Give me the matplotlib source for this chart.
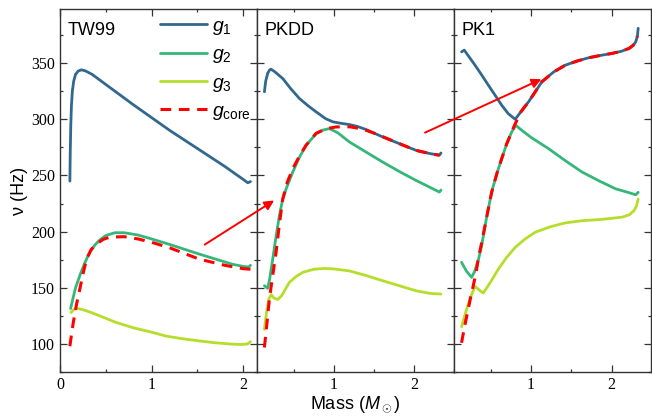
import matplotlib
matplotlib.use("Agg")
import matplotlib.pyplot as plt
from matplotlib.patches import ConnectionPatch
from matplotlib.ticker import MultipleLocator

plt.rcParams['font.family'] = ['Liberation Sans', 'DejaVu Sans']
plt.rcParams['mathtext.fontset'] = 'custom'
plt.rcParams['mathtext.rm'] = 'Liberation Sans'
plt.rcParams['mathtext.it'] = 'Liberation Sans:italic'

# ---- TW99 ----
tw_g1_m = [0.108, 0.112, 0.118, 0.125, 0.135, 0.15, 0.17, 0.2, 0.235, 0.28, 0.35, 0.45, 0.6, 0.8, 1.0, 1.2, 1.5, 1.8, 2.0, 2.05, 2.08]
tw_g1_v = [245, 270, 295, 312, 325, 334, 340, 343, 344, 343, 340, 334, 325, 313, 301.5, 290, 274, 258, 246.5, 243.5, 244.5]
tw_g2_m = [0.116, 0.14, 0.17, 0.217, 0.27, 0.325, 0.38, 0.434, 0.5, 0.6, 0.7, 0.85, 1.0, 1.2, 1.52, 1.7, 1.88, 2.0, 2.06, 2.08]
tw_g2_v = [131.5, 140, 150, 161, 172, 181.5, 188, 192.5, 196.5, 199, 199, 197, 193.5, 188.5, 180, 175.5, 171, 169, 168.5, 170]
tw_g3_m = [0.12, 0.15, 0.18, 0.25, 0.34, 0.434, 0.6, 0.795, 1.0, 1.156, 1.35, 1.518, 1.7, 1.88, 1.98, 2.05, 2.08]
tw_g3_v = [128, 130.5, 131.8, 130.5, 128, 125, 119.5, 114.5, 110.5, 107, 104.5, 102.7, 101, 99.8, 99.5, 100, 102]
tw_gc_m = [0.108, 0.125, 0.145, 0.18, 0.217, 0.25, 0.29, 0.34, 0.4, 0.47, 0.54, 0.7, 0.85, 1.0, 1.2, 1.52, 1.8, 2.0, 2.08]
tw_gc_v = [98, 108, 119, 135, 149, 162, 175.5, 184, 189, 193, 195, 195.5, 193.5, 190.5, 185.5, 175.5, 170, 167, 166.5]

# ---- PKDD ----
pd_g1_m = [0.134, 0.15, 0.175, 0.2, 0.217, 0.26, 0.363, 0.46, 0.571, 0.68, 0.78, 0.9, 0.99, 1.1, 1.196, 1.3, 1.4, 1.61, 1.82, 2.03, 2.2, 2.32, 2.34]
pd_g1_v = [324.5, 334, 341, 344, 344.6, 342.5, 336.3, 327.5, 318.5, 312, 306.6, 300.5, 297.7, 296.3, 295.3, 293.5, 291, 284.3, 278.3, 272.3, 269.5, 268, 270]
pd_g2_m = [0.134, 0.175, 0.2, 0.238, 0.28, 0.321, 0.36, 0.405, 0.488, 0.57, 0.655, 0.78, 0.87, 0.946, 1.05, 1.196, 1.4, 1.61, 1.82, 2.03, 2.2, 2.32, 2.34]
pd_g2_v = [151.8, 149.5, 158, 175.6, 196, 214.3, 228, 238, 253, 266, 276.8, 287.2, 290.5, 291.7, 288, 279.8, 271, 262, 253.5, 245.5, 239.5, 235.2, 237]
pd_g3_m = [0.134, 0.16, 0.19, 0.22, 0.25, 0.3, 0.35, 0.446, 0.53, 0.613, 0.75, 0.884, 1.0, 1.196, 1.4, 1.61, 1.82, 2.03, 2.2, 2.34]
pd_g3_v = [113, 128, 140, 144, 141, 139.5, 143, 154.8, 160, 163.7, 166.5, 167.2, 166.8, 165, 161, 156.3, 151.8, 147.3, 145, 144.4]
pd_gc_m = [0.134, 0.165, 0.196, 0.24, 0.28, 0.32, 0.363, 0.42, 0.488, 0.57, 0.655, 0.78, 0.9, 1.03, 1.2, 1.35, 1.53, 1.82, 2.03, 2.2, 2.32]
pd_gc_v = [96.8, 118, 140, 162, 181.6, 206, 229, 244, 256, 267, 277, 287.5, 291.5, 293.2, 293.3, 291.5, 287, 278.3, 272.3, 269.5, 268]

# ---- PK1 ----
p1_g1_m = [0.141, 0.174, 0.22, 0.308, 0.39, 0.473, 0.556, 0.639, 0.72, 0.806, 0.88, 0.971, 1.05, 1.137, 1.28, 1.428, 1.58, 1.718, 1.86, 2.009, 2.12, 2.217, 2.27, 2.3, 2.32, 2.33]
p1_g1_v = [360, 361.6, 357, 348.2, 339.5, 330.4, 321.5, 312.5, 305, 300, 307, 315.5, 324, 333.4, 342, 348.2, 352, 354.8, 356.8, 358.7, 360.5, 363.1, 366, 369, 374, 381]
p1_g2_m = [0.141, 0.2, 0.265, 0.3, 0.35, 0.39, 0.45, 0.514, 0.58, 0.639, 0.7, 0.763, 0.813, 0.9, 1.0, 1.22, 1.43, 1.635, 1.85, 2.05, 2.2, 2.3, 2.33]
p1_g2_v = [172.7, 165, 159.3, 164, 175, 187.5, 212, 235.2, 252, 264.9, 278, 288.8, 294.6, 289.5, 284, 273.8, 263, 253, 245, 238.1, 235, 232.8, 235]
p1_g3_m = [0.141, 0.2, 0.26, 0.308, 0.36, 0.41, 0.5, 0.598, 0.7, 0.806, 0.93, 1.055, 1.25, 1.428, 1.65, 1.843, 2.0, 2.133, 2.22, 2.28, 2.31, 2.33]
p1_g3_v = [115.3, 130, 143, 151.3, 148, 145.3, 155, 166.7, 177, 186, 193.5, 199.5, 204.5, 207.8, 209.8, 210.7, 211.8, 212.9, 215, 218.8, 223, 229]
p1_gc_m = [0.141, 0.18, 0.224, 0.255, 0.286, 0.32, 0.348, 0.39, 0.45, 0.514, 0.58, 0.639, 0.7, 0.763, 0.806, 0.88, 0.971, 1.05, 1.137, 1.28, 1.428, 1.58, 1.718, 1.86, 2.009, 2.12, 2.217, 2.27, 2.3, 2.32]
p1_gc_v = [101, 116, 131, 142, 151.8, 163, 175.6, 190, 212, 235, 252, 265, 278, 289, 296, 307, 315.5, 324, 333.4, 342, 348.2, 352, 354.8, 356.8, 358.7, 360.5, 363.1, 366, 369, 374]

panel_names = ['TW99', 'PKDD', 'PK1']
panel_xlims = [(0, 2.15), (0.04, 2.5), (0.045, 2.485)]
panel_xticks = [[0, 1, 2], [1, 2], [1, 2]]

# arrows: (start mass, start freq) in left panel -> (end mass, end freq) in right panel
arrow1 = [(1.58, 188.4), (0.255, 227.7)]
arrow2 = [(2.14, 288.1), (1.13, 335.7)]

c1, c2, c3, cc = '#31688e', '#35b779', '#b5de2b', '#ff0000'

fig, axes = plt.subplots(1, 3, figsize=(6.52, 4.18), dpi=100, sharey=True,
                         gridspec_kw=dict(wspace=0))
fig.subplots_adjust(left=0.092, right=0.998, top=0.978, bottom=0.11)

data = [
    (tw_g1_m, tw_g1_v, tw_g2_m, tw_g2_v, tw_g3_m, tw_g3_v, tw_gc_m, tw_gc_v),
    (pd_g1_m, pd_g1_v, pd_g2_m, pd_g2_v, pd_g3_m, pd_g3_v, pd_gc_m, pd_gc_v),
    (p1_g1_m, p1_g1_v, p1_g2_m, p1_g2_v, p1_g3_m, p1_g3_v, p1_gc_m, p1_gc_v),
]

lw = 2.0
for i, ax in enumerate(axes):
    g1m, g1v, g2m, g2v, g3m, g3v, gcm, gcv = data[i]
    ax.plot(g1m, g1v, color=c1, lw=lw, label='$g_1$', solid_capstyle='round')
    ax.plot(g2m, g2v, color=c2, lw=lw, label='$g_2$', solid_capstyle='round')
    ax.plot(g3m, g3v, color=c3, lw=lw, label='$g_3$', solid_capstyle='round')
    ax.plot(gcm, gcv, color=cc, lw=2.2, ls=(0, (3.5, 2.5)), label='$g_{\\rm core}$')
    ax.set_xlim(*panel_xlims[i])
    ax.set_ylim(75, 398)
    ax.set_xticks(panel_xticks[i])
    ax.xaxis.set_minor_locator(MultipleLocator(0.5))
    ax.yaxis.set_major_locator(MultipleLocator(50))
    ax.yaxis.set_minor_locator(MultipleLocator(25))
    ax.tick_params(which='both', direction='in', top=True, right=True,
                   color='#333333', width=0.9, labelfontfamily='Liberation Serif',
                   labelsize=11.5)
    ax.tick_params(which='major', length=5)
    ax.tick_params(which='minor', length=2.5)
    for s in ax.spines.values():
        s.set_color('#333333')
        s.set_linewidth(1.0)
    ax.text(0.04, 0.965, panel_names[i], transform=ax.transAxes, ha='left', va='top',
            fontsize=13)

axes[0].set_ylabel('ν (Hz)', fontsize=13, labelpad=2)
axes[1].set_xlabel('Mass ($M_\\odot$)', fontsize=13, labelpad=1)

axes[0].legend(loc='upper right', bbox_to_anchor=(1.04, 1.015), frameon=False,
               fontsize=14, handlelength=2.4, handletextpad=0.3, labelspacing=0.45,
               borderaxespad=0.3)

for (p0, p1), axA, axB in [(arrow1, axes[0], axes[1]), (arrow2, axes[1], axes[2])]:
    con = ConnectionPatch(xyA=p0, coordsA='data', axesA=axA,
                          xyB=p1, coordsB='data', axesB=axB,
                          arrowstyle='-|>', color=cc, lw=1.4, mutation_scale=14,
                          shrinkA=0, shrinkB=0)
    fig.add_artist(con)

fig.savefig('out.png', dpi=100)
